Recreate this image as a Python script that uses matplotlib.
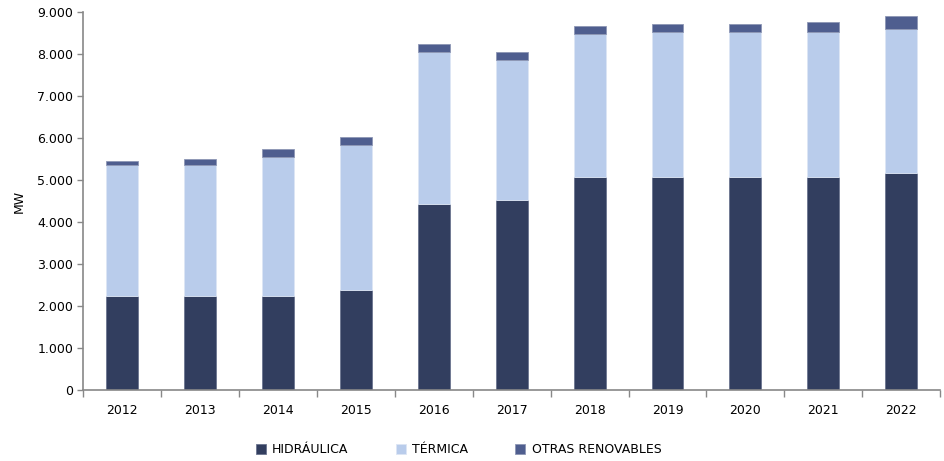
import numpy as np
import matplotlib.pyplot as plt
from matplotlib.ticker import FuncFormatter, FixedLocator

years = ['2012', '2013', '2014', '2015', '2016', '2017', '2018', '2019', '2020', '2021', '2022']
hidraulica = [2250, 2250, 2250, 2385, 4435, 4530, 5080, 5080, 5080, 5080, 5175]
termica = [3120, 3120, 3305, 3450, 3630, 3345, 3400, 3445, 3445, 3445, 3440]
otras = [90, 135, 180, 190, 185, 185, 190, 190, 190, 240, 295]

c_hid = '#323e5f'
c_ter = '#b9cceb'
c_otr = '#4f5e8f'

fig = plt.figure(figsize=(9.44, 4.61), dpi=100)
ax = fig.add_axes([0.088, 0.154, 0.908, 0.819])

x = np.arange(len(years))
w = 0.41
b1 = np.array(hidraulica)
b2 = b1 + np.array(termica)
ax.bar(x, hidraulica, w, color=c_hid, edgecolor='#6b7590', linewidth=0.6, label='HIDRÁULICA')
ax.bar(x, termica, w, bottom=b1, color=c_ter, edgecolor='#dde6f5', linewidth=0.6, label='TÉRMICA')
ax.bar(x, otras, w, bottom=b2, color=c_otr, edgecolor='#8d97b5', linewidth=0.6, label='OTRAS RENOVABLES')

ax.set_xlim(-0.5, len(years) - 0.5)
ax.set_ylim(0, 9000)
ax.set_yticks(range(0, 9001, 1000))
ax.yaxis.set_major_formatter(FuncFormatter(lambda v, p: f'{int(v):,}'.replace(',', '.')))
ax.set_xticks(x)
ax.set_xticklabels(years)
ax.xaxis.set_minor_locator(FixedLocator(np.arange(-0.5, len(years), 1.0)))
ax.tick_params(axis='x', which='major', length=0, pad=10, labelsize=9)
ax.tick_params(axis='x', which='minor', length=5, color='#888888', width=1)
ax.tick_params(axis='y', length=4, color='#888888', width=1, labelsize=9, pad=3)

for s in ['top', 'right']:
    ax.spines[s].set_visible(False)
for s in ['left', 'bottom']:
    ax.spines[s].set_color('#888888')
    ax.spines[s].set_linewidth(1.2)

ax.set_ylabel('MW', fontsize=9, labelpad=8)

ax.legend(loc='center', bbox_to_anchor=(0.438, -0.158), ncol=3, frameon=False,
          fontsize=9, handlelength=0.8, handleheight=0.8, columnspacing=3.8, handletextpad=0.5)

plt.savefig('out.png', dpi=100)
plt.close()
